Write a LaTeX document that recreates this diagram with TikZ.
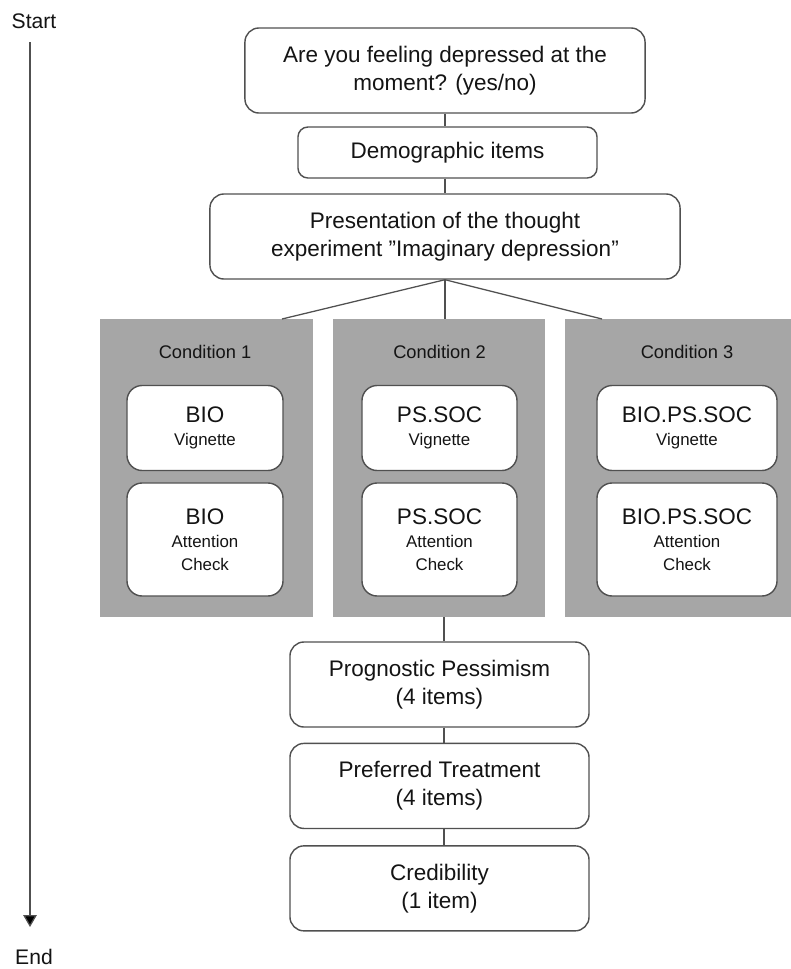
\documentclass[tikz,border=0pt]{standalone}
\usepackage{fontspec}
\setmainfont{Liberation Sans}
\usetikzlibrary{positioning,arrows.meta}
\definecolor{panelgray}{HTML}{A6A6A6}
\definecolor{linegray}{HTML}{505050}
\definecolor{txtgray}{HTML}{141414}
\tikzset{
	stepbox/.style={draw=linegray, line width=1pt, rounded corners=0.35cm, fill=white, align=center, text=txtgray, inner sep=0pt, minimum height=2.125cm, font=\fontsize{16}{20}\selectfont},
	condpanel/.style={fill=panelgray, draw=none, inner sep=0pt, minimum height=7.45cm},
	condlabel/.style={text=txtgray, font=\fontsize{13}{15}\selectfont},
	vigbox/.style={draw=linegray, line width=1pt, rounded corners=0.38cm, fill=white, align=center, text=txtgray, inner sep=0pt, font=\fontsize{12}{16.5}\selectfont},
	link/.style={draw=linegray, line width=0.9pt},
	timelabel/.style={text=txtgray, font=\fontsize{15}{18}\selectfont},
}
\newcommand{\vigname}[1]{{\fontsize{16}{20}\selectfont #1}}
\begin{document}
\begin{tikzpicture}[x=0.025cm, y=-0.025cm]
	\clip (0,0) rectangle (791,969);
	\fill[white] (0,0) rectangle (791,969);
	% time line
	\node[timelabel] (start) at (34,21) {Start};
	\node[timelabel] (end) at (34,957) {End};
	\coordinate (tltop) at (30,42);
	\coordinate (tlend) at (30,927);
	\draw[link, -{Triangle[width=0.34cm, length=0.3cm, fill=black]}] (tltop) -- (tlend);
	% steps before the conditions
	\node[stepbox, minimum width=10cm] (ask) at (445,70.5) {Are you feeling depressed at the\\moment? (yes/no)};
	\node[stepbox, minimum width=7.475cm, minimum height=1.275cm, rounded corners=0.25cm] (demo) at (447.5,152.5) {Demographic items};
	\node[stepbox, minimum width=11.75cm] (pres) at (445,236.5) {Presentation of the thought\\experiment "Imaginary depression"};
	% conditions
	\node[condpanel, minimum width=5.325cm] (cond1) at (206.5,468) {};
	\node[condpanel, minimum width=5.3cm] (cond2) at (439,468) {};
	\node[condpanel, minimum width=6.1cm] (cond3) at (687,468) {};
	\node[condlabel] (lab1) at (205,352) {Condition 1};
	\node[condlabel] (lab2) at (439.5,352) {Condition 2};
	\node[condlabel] (lab3) at (687,352) {Condition 3};
	\node[vigbox, minimum width=3.9cm, minimum height=2.125cm] (vig1) at (205,428) {\vigname{BIO}\\Vignette};
	\node[vigbox, minimum width=3.9cm, minimum height=2.825cm] (att1) at (205,539.5) {\vigname{BIO}\\Attention\\Check};
	\node[vigbox, minimum width=3.875cm, minimum height=2.125cm] (vig2) at (439.5,428) {\vigname{PS.SOC}\\Vignette};
	\node[vigbox, minimum width=3.875cm, minimum height=2.825cm] (att2) at (439.5,539.5) {\vigname{PS.SOC}\\Attention\\Check};
	\node[vigbox, minimum width=4.5cm, minimum height=2.125cm] (vig3) at (687,428) {\vigname{BIO.PS.SOC}\\Vignette};
	\node[vigbox, minimum width=4.5cm, minimum height=2.825cm] (att3) at (687,539.5) {\vigname{BIO.PS.SOC}\\Attention\\Check};
	% measures
	\node[stepbox, minimum width=7.475cm] (progn) at (439.5,684.5) {Prognostic Pessimism\\(4 items)};
	\node[stepbox, minimum width=7.475cm, below=0.375cm of progn] (pref) {Preferred Treatment\\(4 items)};
	\node[stepbox, minimum width=7.475cm, below=0.4cm of pref] (cred) {Credibility\\(1 item)};
	% connectors
	\coordinate (split1) at (282,319);
	\coordinate (split3) at (602,319);
	\coordinate (axis) at (444,0);
	\draw[link] (ask.south) -- (ask.south |- demo.north);
	\draw[link] (demo.south -| ask.south) -- (pres.north);
	\draw[link] (pres.south) -- (split1);
	\draw[link] (pres.south) -- (pres.south |- cond2.north);
	\draw[link] (pres.south) -- (split3);
	\draw[link] (cond2.south -| axis) -- (progn.north -| axis);
	\draw[link] (progn.south -| axis) -- (pref.north -| axis);
	\draw[link] (pref.south -| axis) -- (cred.north -| axis);
\end{tikzpicture}
\end{document}
